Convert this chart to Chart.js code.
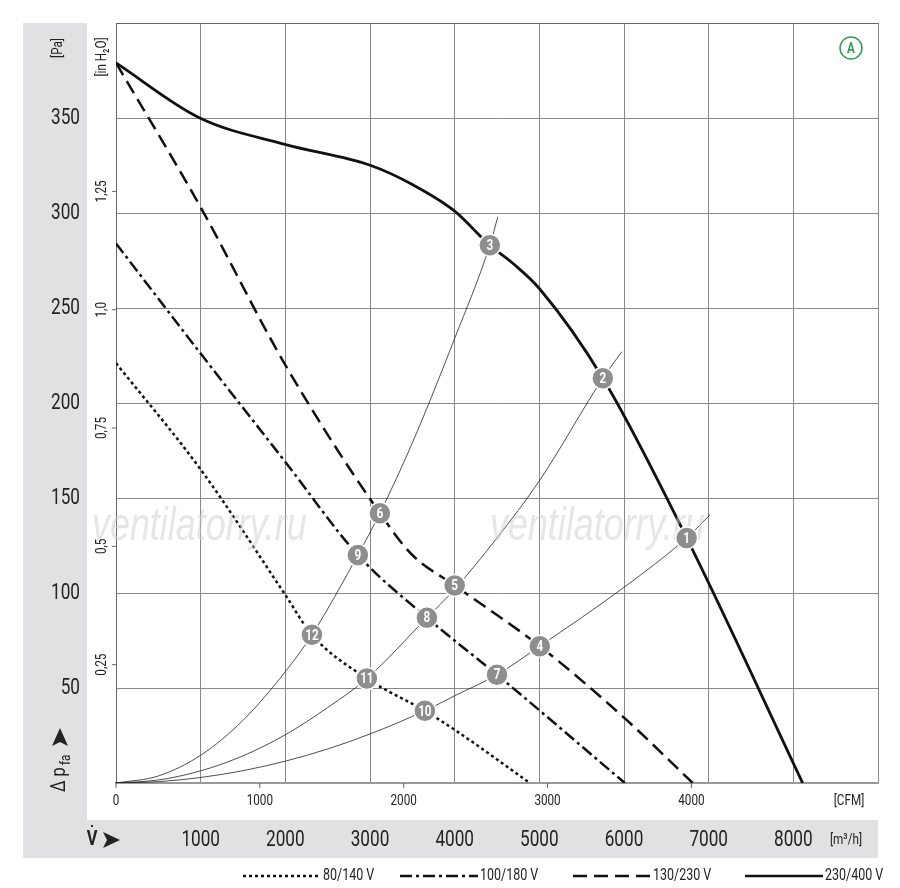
<!DOCTYPE html>
<html>
<head>
<meta charset="utf-8">
<script src="https://cdn.jsdelivr.net/npm/chart.js@4/dist/chart.umd.min.js"></script>
<style>
  body { margin: 0; background: #fff; }
  #wrap { width: 900px; height: 888px; }
</style>
</head>
<body>
<div id="wrap"><canvas id="fanChart" width="900" height="888"></canvas></div>
<script>
// characteristic curves, [m3/h, Pa]
const curve80 = [[0,221],[1000,165],[2000,99],[2314,78],[2963,55],[3648,38],[4000,28],[4888,0]];
const curve100 = [[0,284],[1000,226],[2000,169],[2857,120],[3672,87],[4500,57],[6010,0]];
const curve130 = [[0,379],[1000,303],[2000,220],[3117,142],[3500,120],[4000,104],[5005,72],[6010,34],[6812,0]];
const curve230 = [[0,379],[990,350],[2007,336],[3010,325],[3500,315],[4000,301],[4415,283],[4700,273],[5005,260],[5750,213],[6740,129],[8110,0]];
// system resistance curves
const sysA = [[0,0],[500,3.7],[1000,14.6],[1500,33],[2000,58.6],[2314,78],[2857,120],[3117,142],[3500,179],[4000,234],[4415,283],[4510,298]];
const sysB = [[0,0],[500,1.6],[1000,6.4],[1500,14.3],[2000,25.4],[2500,39.7],[2963,55],[3672,87],[4000,102],[4500,129],[5000,159],[5750,213],[5974,227]];
const sysC = [[0,0],[500,0.7],[1000,2.9],[1500,6.5],[2000,11.5],[2500,17.9],[3000,25.8],[3648,38],[4000,45.9],[4500,57],[5005,72],[6000,103],[6740,129],[7013,141]];
// numbered operating points
const markerLabels = ["1","2","3","4","5","6","7","8","9","10","11","12"];
const markerPoints = [[6740,129],[5750,213],[4415,283],[5005,72],[4000,104],[3117,142],[4500,57],[3672,87],[2857,120],[3648,38],[2963,55],[2314,78]];

const m3Ticks = [1000,2000,3000,4000,5000,6000,7000,8000];
const cfmTicks = [0,1000,2000,3000,4000];
const paTicks = [50,100,150,200,250,300,350];
const inchTicks = ["0,25","0,5","0,75","1,0","1,25"];
const legendLabels = ["80/140 V","100/180 V","130/230 V","230/400 V"];

const FONT = "'Roboto', sans-serif";
const toXY = a => a.map(p => ({x: p[0], y: p[1]}));

// narrow text: squeeze horizontally
function ntext(c, t, x, y, align) {
  c.save();
  c.translate(x, y);
  c.scale(0.78, 1);
  c.textAlign = align || "left";
  c.fillText(t, 0, 0);
  c.restore();
}

function line(data, dash, width) {
  return { data: toXY(data), borderColor: "#111", borderWidth: width, borderDash: dash,
    pointRadius: 0, fill: false, cubicInterpolationMode: "monotone", showLine: true };
}
function sys(data) {
  return { data: toXY(data), borderColor: "#222", borderWidth: 0.8, pointRadius: 0,
    fill: false, cubicInterpolationMode: "monotone", showLine: true };
}

const decor = {
  id: "decor",
  beforeDraw(chart) {
    const c = chart.ctx, a = chart.chartArea;
    c.save();
    c.fillStyle = "#e1e1e3";
    c.fillRect(23, 23, 64, 797);
    c.fillRect(23, 820, a.right - 23, 38);
    c.restore();
  },
  afterDraw(chart) {
    const c = chart.ctx, a = chart.chartArea;
    const xs = chart.scales.x, ys = chart.scales.y;
    c.save();
    c.textBaseline = "middle";
    // watermark
    c.font = "italic 46px 'Liberation Sans', sans-serif";
    c.fillStyle = "rgba(205,205,205,0.5)";
    ntext(c, "ventilatorry.ru", 92, 527);
    ntext(c, "ventilatorry.ru", 490, 527);

    c.fillStyle = "#222";
    // Pa ticks
    c.font = "22px " + FONT;
    paTicks.forEach(v => ntext(c, String(v), 80, ys.getPixelForValue(v), "right"));
    // m3/h ticks
    m3Ticks.forEach(v => ntext(c, String(v), xs.getPixelForValue(v), 840, "center"));
    c.font = "15px " + FONT;
    ntext(c, "[m³/h]", 830, 840);
    // CFM ticks
    c.strokeStyle = "#666"; c.lineWidth = 1;
    cfmTicks.forEach(v => {
      const px = xs.getPixelForValue(v * 1.699);
      ntext(c, String(v), px, 801, "center");
      c.beginPath(); c.moveTo(px, a.bottom); c.lineTo(px, a.bottom + 5); c.stroke();
    });
    ntext(c, "[CFM]", 849, 801, "center");
    // V arrow
    c.font = "bold 21px " + FONT;
    ntext(c, "V", 92, 840, "center");
    c.fillRect(91, 825, 2, 2);
    c.beginPath(); c.moveTo(103, 832); c.lineTo(120, 840); c.lineTo(103, 848); c.lineTo(107, 840); c.closePath(); c.fill();
    // inch ticks, rotated
    c.font = "15px " + FONT;
    inchTicks.forEach((t, i) => {
      const py = ys.getPixelForValue((i + 1) * 0.25 * 249.09);
      c.beginPath(); c.moveTo(a.left - 4, py); c.lineTo(a.left, py); c.stroke();
      c.save(); c.translate(102, py); c.rotate(-Math.PI / 2);
      ntext(c, t, 0, 0, "center"); c.restore();
    });
    c.save(); c.translate(102, 57); c.rotate(-Math.PI / 2);
    ntext(c, "[in H₂O]", 0, 0, "center"); c.restore();
    c.save(); c.translate(58, 48); c.rotate(-Math.PI / 2);
    ntext(c, "[Pa]", 0, 0, "center"); c.restore();
    // delta p_fa label
    c.save(); c.translate(60, 792); c.rotate(-Math.PI / 2);
    c.font = "21px " + FONT;
    ntext(c, "Δ p", 0, 0);
    c.font = "15px " + FONT; ntext(c, "fa", 27, 6);
    c.beginPath(); c.moveTo(46, -8); c.lineTo(64, 0); c.lineTo(46, 8); c.lineTo(50, 0); c.closePath(); c.fill();
    c.restore();
    // A badge
    c.strokeStyle = "#3a9a5a"; c.lineWidth = 1.5; c.fillStyle = "#3a9a5a";
    c.beginPath(); c.arc(851, 48, 11, 0, Math.PI * 2); c.stroke();
    c.font = "bold 15px " + FONT;
    ntext(c, "A", 851, 49, "center");
    // markers
    markerPoints.forEach((p, i) => {
      const px = xs.getPixelForValue(p[0]), py = ys.getPixelForValue(p[1]);
      c.fillStyle = "#8e8e8e"; c.strokeStyle = "#fff"; c.lineWidth = 1.5;
      c.beginPath(); c.arc(px, py, 11, 0, Math.PI * 2); c.fill(); c.stroke();
      c.fillStyle = "#fff"; c.font = "bold 15px " + FONT;
      ntext(c, markerLabels[i], px, py + 1, "center");
    });
    // legend
    const dashes = [[3, 3], [12, 4, 3, 4], [14, 7], []];
    const lx = [243, 400, 573, 745];
    c.font = "16px " + FONT; c.fillStyle = "#222";
    legendLabels.forEach((t, i) => {
      c.strokeStyle = "#111"; c.lineWidth = 2.5; c.setLineDash(dashes[i]);
      c.beginPath(); c.moveTo(lx[i], 876); c.lineTo(lx[i] + 78, 876); c.stroke();
      c.setLineDash([]);
      ntext(c, t, lx[i] + 80, 876);
    });
    c.restore();
  }
};

new Chart(document.getElementById("fanChart"), {
  type: "scatter",
  data: {
    datasets: [
      sys(sysA), sys(sysB), sys(sysC),
      line(curve80, [3, 3], 2.5),
      line(curve100, [12, 4, 3, 4], 2.5),
      line(curve130, [14, 7], 2.5),
      line(curve230, [], 2.8)
    ]
  },
  options: {
    responsive: false,
    animation: false,
    layout: { padding: { left: 116, right: 22, top: 23, bottom: 105 } },
    plugins: { legend: { display: false }, tooltip: { enabled: false } },
    scales: {
      x: { type: "linear", min: 0, max: 9000,
        ticks: { display: false, stepSize: 1000 },
        grid: { color: "#888", lineWidth: 1, drawTicks: false },
        border: { color: "#999", width: 2 } },
      y: { type: "linear", min: 0, max: 400,
        ticks: { display: false, stepSize: 50 },
        grid: { color: "#888", lineWidth: 1, drawTicks: false },
        border: { color: "#666", width: 1 } },
      x2: { position: "top", type: "linear", min: 0, max: 9000,
        ticks: { display: false }, grid: { display: false, drawTicks: false },
        border: { color: "#666", width: 1 } }
    }
  },
  plugins: [decor]
});
</script>
</body>
</html>
